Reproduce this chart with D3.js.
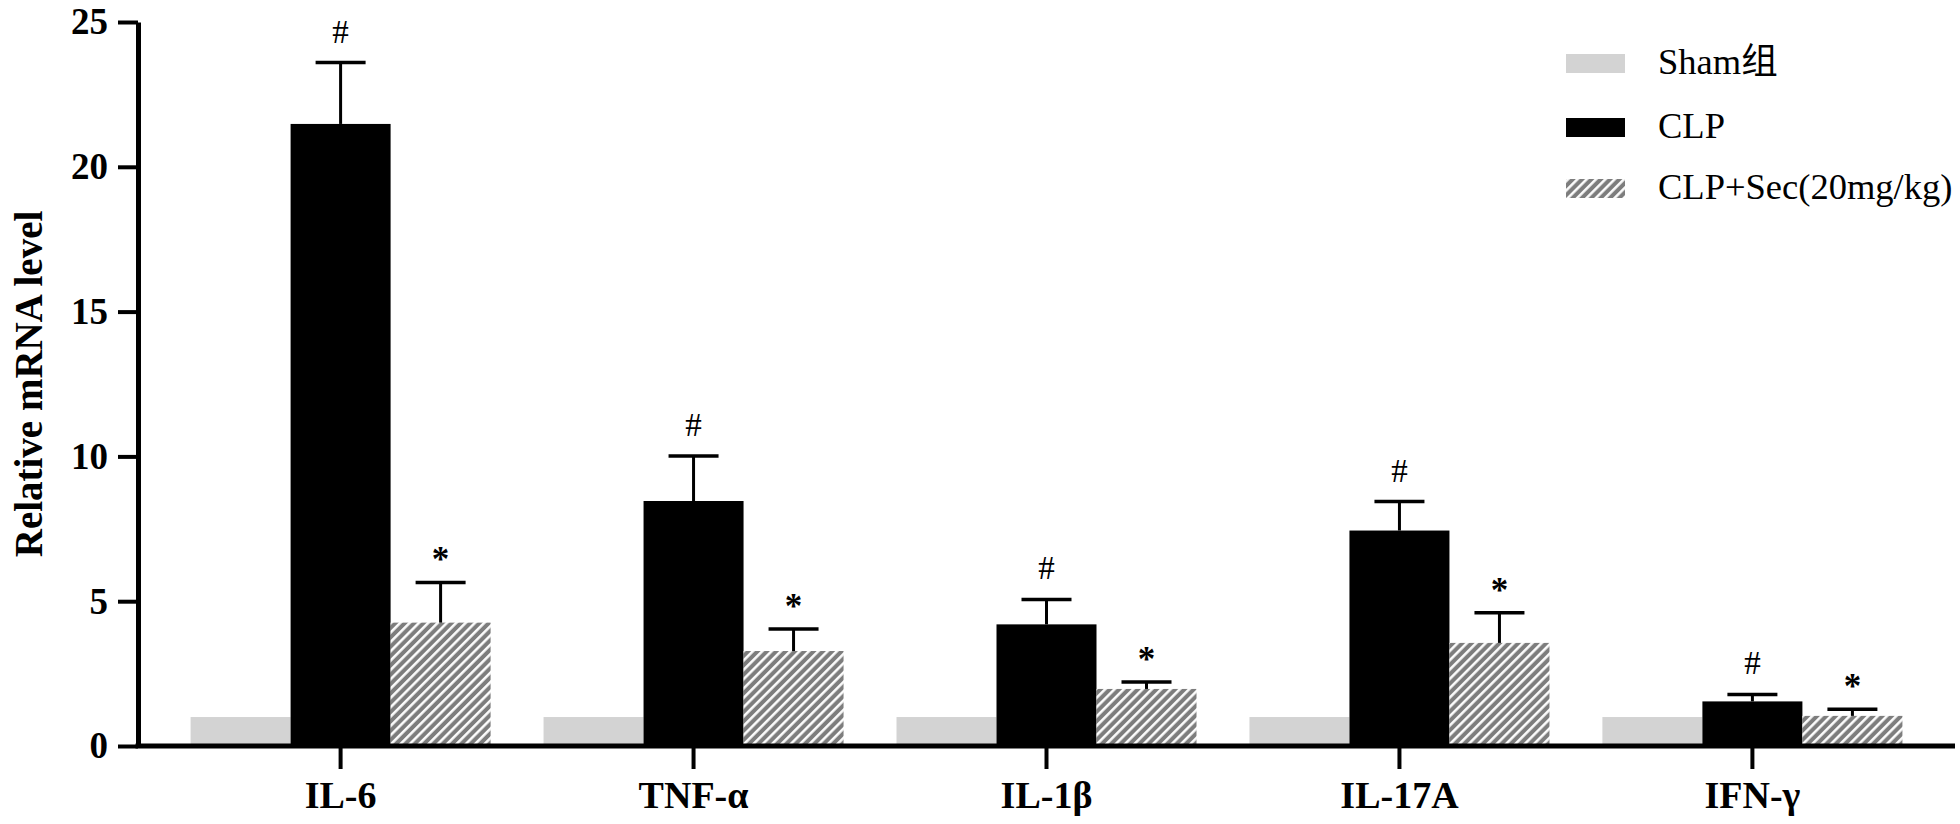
<!DOCTYPE html>
<html>
<head>
<meta charset="utf-8">
<script src="https://cdn.jsdelivr.net/npm/d3@7"></script>
<style>
  html, body { margin: 0; padding: 0; background: #ffffff; }
  svg { display: block; }
</style>
</head>
<body>
<svg id="chart" width="1960" height="824"></svg>
<script>
// ---- data ----
const categories = ["IL-6", "TNF-α", "IL-1β", "IL-17A", "IFN-γ"];
const seriesNames = ["Sham组", "CLP", "CLP+Sec(20mg/kg)"];
const shamValues = [1, 1, 1, 1, 1];
const clpValues = [21.48, 8.46, 4.2, 7.44, 1.54];
const clpErrors = [2.12, 1.55, 0.86, 1.0, 0.24];
const secValues = [4.26, 3.28, 1.97, 3.56, 1.04];
const secErrors = [1.39, 0.76, 0.24, 1.04, 0.23];
const clpMarks = ["#", "#", "#", "#", "#"];
const secMarks = ["*", "*", "*", "*", "*"];
const yTicks = [0, 5, 10, 15, 20, 25];
const yTitle = "Relative mRNA level";

// ---- layout ----
const svg = d3.select("#chart");
const plotLeft = 138, plotRight = 1955, plotTop = 22, plotBottom = 746;
const serif = "'Liberation Serif', 'Times New Roman', 'Noto Sans CJK SC', serif";
const colors = ["#d3d3d3", "#000000", "url(#hatch)"];

const defs = svg.append("defs");
const pat = defs.append("pattern")
  .attr("id", "hatch")
  .attr("patternUnits", "userSpaceOnUse")
  .attr("width", 6.6).attr("height", 6.6)
  .attr("patternTransform", "rotate(45)");
pat.append("rect").attr("width", 6.6).attr("height", 6.6).attr("fill", "#7d7d7d");
pat.append("line").attr("x1", 1.3).attr("y1", 0).attr("x2", 1.3).attr("y2", 6.6)
  .attr("stroke", "#ffffff").attr("stroke-width", 2.5);

const x0 = d3.scaleBand().domain(categories).range([plotLeft, plotRight])
  .paddingInner(0.15).paddingOuter(0.149);
const x1 = d3.scaleBand().domain(seriesNames).range([0, x0.bandwidth()]).padding(0);
const y = d3.scaleLinear().domain([0, 25]).range([plotBottom, plotTop]);

const rows = categories.map((c, i) => ({
  cat: c,
  vals: [
    { s: seriesNames[0], v: shamValues[i], e: null, m: null },
    { s: seriesNames[1], v: clpValues[i], e: clpErrors[i], m: clpMarks[i] },
    { s: seriesNames[2], v: secValues[i], e: secErrors[i], m: secMarks[i] }
  ]
}));

// bars
const g = svg.append("g");
const groups = g.selectAll("g.grp").data(rows).join("g")
  .attr("class", "grp")
  .attr("transform", d => `translate(${x0(d.cat)},0)`);

groups.selectAll("rect").data(d => d.vals).join("rect")
  .attr("x", d => x1(d.s))
  .attr("width", x1.bandwidth())
  .attr("y", d => y(d.v))
  .attr("height", d => y(0) - y(d.v))
  .attr("fill", (d, i) => colors[i]);

// error bars
const errs = groups.selectAll("g.err").data(d => d.vals.filter(v => v.e !== null)).join("g")
  .attr("class", "err");
errs.append("line")
  .attr("x1", d => x1(d.s) + x1.bandwidth() / 2)
  .attr("x2", d => x1(d.s) + x1.bandwidth() / 2)
  .attr("y1", d => y(d.v))
  .attr("y2", d => y(d.v + d.e))
  .attr("stroke", "#000").attr("stroke-width", 3);
errs.append("line")
  .attr("x1", d => x1(d.s) + x1.bandwidth() / 2 - 25)
  .attr("x2", d => x1(d.s) + x1.bandwidth() / 2 + 25)
  .attr("y1", d => y(d.v + d.e))
  .attr("y2", d => y(d.v + d.e))
  .attr("stroke", "#000").attr("stroke-width", 3.5);
errs.append("text")
  .attr("x", d => x1(d.s) + x1.bandwidth() / 2)
  .attr("y", d => y(d.v + d.e) - (d.m === "#" ? 20 : 11))
  .attr("text-anchor", "middle")
  .attr("font-family", serif)
  .attr("font-size", d => d.m === "#" ? 33 : 35)
  .attr("font-weight", d => d.m === "#" ? "normal" : "bold")
  .attr("fill", "#000")
  .text(d => d.m);

// y axis
const yAxis = svg.append("g")
  .attr("transform", `translate(${plotLeft},0)`)
  .call(d3.axisLeft(y).tickValues(yTicks).tickSize(20).tickSizeOuter(0).tickPadding(10));
yAxis.select(".domain").attr("stroke-width", 5);
yAxis.selectAll(".tick line").attr("stroke-width", 4);
yAxis.selectAll(".tick text")
  .attr("font-family", serif).attr("font-size", 37).attr("font-weight", "bold").attr("fill", "#000");

// x axis
const xAxis = svg.append("g")
  .attr("transform", `translate(0,${plotBottom})`)
  .call(d3.axisBottom(x0).tickSize(23).tickSizeOuter(0).tickPadding(12));
xAxis.select(".domain").attr("stroke-width", 5)
  .attr("d", `M${plotLeft - 2.5},0H${plotRight}`);
xAxis.selectAll(".tick line").attr("stroke-width", 4);
xAxis.selectAll(".tick text")
  .attr("font-family", serif).attr("font-size", 38).attr("font-weight", "bold").attr("fill", "#000");

// y title
svg.append("text")
  .attr("transform", `translate(42,${(plotTop + plotBottom) / 2}) rotate(-90)`)
  .attr("text-anchor", "middle")
  .attr("font-family", serif).attr("font-size", 39).attr("font-weight", "bold")
  .attr("fill", "#000")
  .text(yTitle);

// legend
const legendY = [54, 118, 179];
const leg = svg.append("g");
seriesNames.forEach((name, i) => {
  leg.append("rect")
    .attr("x", 1566).attr("y", legendY[i]).attr("width", 59).attr("height", 19)
    .attr("fill", colors[i]);
  leg.append("text")
    .attr("x", 1658).attr("y", legendY[i] + 20)
    .attr("font-family", serif).attr("font-size", 36.5).attr("fill", "#000")
    .text(name);
});
</script>
</body>
</html>
